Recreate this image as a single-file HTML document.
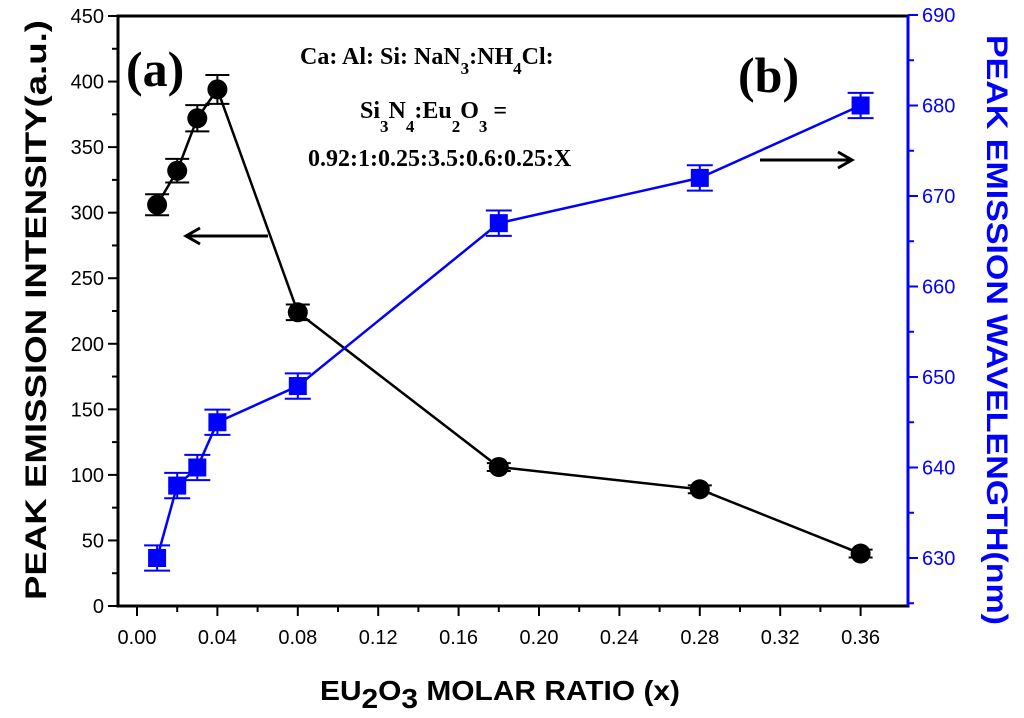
<!DOCTYPE html>
<html><head><meta charset="utf-8"><style>
body{margin:0;background:#fff}
text{font-family:"Liberation Sans",Arial,sans-serif}
.serif{font-family:"Liberation Serif",serif;font-weight:bold}
</style></head><body>
<svg id="c" width="1024" height="713">
<g id="g"></g>
<text class="serif" x="126" y="86" font-size="50">(a)</text>
<text class="serif" x="738" y="92" font-size="50">(b)</text>
<g class="serif" font-size="24">
<text class="serif" x="300" y="64">Ca: Al: Si: NaN<tspan dy="10" font-size="17">3</tspan><tspan dy="-10">:NH</tspan><tspan dy="10" font-size="17">4</tspan><tspan dy="-10">Cl:</tspan></text>
<text class="serif" x="360" y="118">Si<tspan dy="14" font-size="17">3</tspan><tspan dy="-14">N</tspan><tspan dy="14" font-size="17">4</tspan><tspan dy="-14">:Eu</tspan><tspan dy="14" font-size="17">2</tspan><tspan dy="-14">O</tspan><tspan dy="14" font-size="17">3</tspan><tspan dy="-14"> =</tspan></text>
<text class="serif" x="308" y="166">0.92:1:0.25:3.5:0.6:0.25:X</text>
</g>
<text x="500" y="700" font-size="28" font-weight="bold" text-anchor="middle" textLength="360" lengthAdjust="spacingAndGlyphs">EU<tspan dy="8">2</tspan><tspan dy="-8">O</tspan><tspan dy="8">3</tspan><tspan dy="-8"> MOLAR RATIO (x)</tspan></text>
<text transform="translate(46,310) rotate(-90)" font-size="30" font-weight="bold" text-anchor="middle" textLength="580" lengthAdjust="spacingAndGlyphs">PEAK EMISSION INTENSITY(a.u.)</text>
<text transform="translate(987,330) rotate(90)" font-size="30" font-weight="bold" fill="#0000ff" text-anchor="middle" textLength="590" lengthAdjust="spacingAndGlyphs">PEAK EMISSION WAVELENGTH(nm)</text>
</svg>
<script>
const xVals=[0.01,0.02,0.03,0.04,0.08,0.18,0.28,0.36];
const intensity=[306,332,372,394,224,106,89,40];
const intensityErr=[8,9,10,11,6,3,3,3];
const wavelength=[630,638,640,645,649,667,672,680];
const wavelengthErr=[1.4,1.4,1.4,1.4,1.4,1.4,1.4,1.4];
const xTicks=[0,0.04,0.08,0.12,0.16,0.20,0.24,0.28,0.32,0.36];
const leftTicks=[0,50,100,150,200,250,300,350,400,450];
const rightTicks=[630,640,650,660,670,680,690];
const L=118,R=908,T=16,B=606;
const X=v=>137+v/0.04*80.4;
const YL=v=>B-v*(B-T)/450;
const YR=v=>558-(v-630)*9.05;
const NS="http://www.w3.org/2000/svg",g=document.getElementById('g');
function el(t,a,p){const e=document.createElementNS(NS,t);for(const k in a)e.setAttribute(k,a[k]);(p||g).appendChild(e);return e;}
let f=el('rect',{x:L,y:T,width:R-L,height:B-T,fill:'none',stroke:'#000','stroke-width':3});

xTicks.forEach((t,i)=>{el('line',{x1:X(t),x2:X(t),y1:B,y2:B+10,stroke:'#000','stroke-width':2});
 if(i<9)el('line',{x1:X(t+0.02),x2:X(t+0.02),y1:B,y2:B+6,stroke:'#000','stroke-width':2});
 const tx=el('text',{x:X(t),y:B+38,'font-size':20,'text-anchor':'middle'});tx.textContent=t.toFixed(2);
 });
leftTicks.forEach((t,i)=>{el('line',{x1:L-10,x2:L,y1:YL(t),y2:YL(t),stroke:'#000','stroke-width':2});
 if(i<9)el('line',{x1:L-6,x2:L,y1:YL(t+25),y2:YL(t+25),stroke:'#000','stroke-width':2});
 const tx=el('text',{x:L-14,y:YL(t)+7,'font-size':20,'text-anchor':'end'});tx.textContent=t;
 });
el('line',{x1:R,x2:R,y1:T,y2:B,stroke:'#0000ff','stroke-width':3});
rightTicks.forEach((t,i)=>{el('line',{x1:R,x2:R+10,y1:YR(t),y2:YR(t),stroke:'#0000ff','stroke-width':2});
 el('line',{x1:R,x2:R+6,y1:YR(t-5),y2:YR(t-5),stroke:'#0000ff','stroke-width':2});
 const tx=el('text',{x:R+14,y:YR(t)+7,'font-size':20,fill:'#0000ff'});tx.textContent=t;
 });
let p1=el('polyline',{points:xVals.map((x,i)=>X(x)+','+YL(intensity[i])).join(' '),fill:'none',stroke:'#000','stroke-width':2.5});

let p2=el('polyline',{points:xVals.map((x,i)=>X(x)+','+YR(wavelength[i])).join(' '),fill:'none',stroke:'#0000ff','stroke-width':2.5});

xVals.forEach((x,i)=>{const cx=X(x);
 const y1=YL(intensity[i]+intensityErr[i]),y2=YL(intensity[i]-intensityErr[i]);
 el('path',{d:`M${cx},${y1}V${y2}M${cx-12},${y1}h24M${cx-12},${y2}h24`,stroke:'#000','stroke-width':2});
 const c=el('circle',{cx:cx,cy:YL(intensity[i]),r:10,fill:'#000'});
 
 const w1=YR(wavelength[i]+wavelengthErr[i]),w2=YR(wavelength[i]-wavelengthErr[i]);
 el('path',{d:`M${cx},${w1}V${w2}M${cx-13},${w1}h26M${cx-13},${w2}h26`,stroke:'#0000ff','stroke-width':2});
 const s=el('rect',{x:cx-9,y:YR(wavelength[i])-9,width:18,height:18,fill:'#0000ff'});
 
});
let a1=el('path',{d:'M268,236H186M200,228l-14,8l14,8',fill:'none',stroke:'#000','stroke-width':3});

let a2=el('path',{d:'M760,160H852M838,152l14,8l-14,8',fill:'none',stroke:'#000','stroke-width':3});

</script>
</body></html>
